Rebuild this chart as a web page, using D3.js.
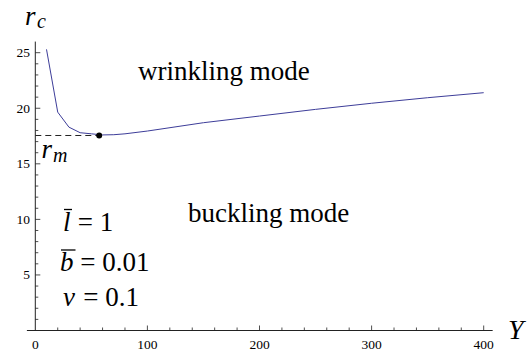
<!DOCTYPE html>
<html><head><meta charset="utf-8">
<script src="https://cdn.jsdelivr.net/npm/d3@7"></script>
</head><body style="margin:0">
<svg id="c" width="527" height="358"></svg>
<script>
// ---- data ----
const Yvals  = [10, 20, 30, 40, 50, 60, 70, 80, 100, 150, 200, 250, 300, 350, 400];
const rcVals = [25.3, 19.65, 18.3, 17.8, 17.7, 17.6, 17.62, 17.7, 17.95, 18.7, 19.3, 19.9, 20.45, 20.95, 21.4];
const minPoint = {Y: 57, r: 17.55};
const xTicks = [0, 100, 200, 300, 400];
const yTicks = [5, 10, 15, 20, 25];

const svg = d3.select("#c");
const x = d3.scaleLinear().domain([0, 400]).range([35.3, 483.7]);
const y = d3.scaleLinear().domain([0, 25]).range([330.5, 52.7]);
const axisCol = "#222";
const FAM = "Liberation Serif";

function T(t, px, py, size, italic, anchor) {
  const s = svg.append("text").attr("x", px).attr("y", py)
    .style("font-family", FAM).style("font-size", size + "px");
  if (italic) s.style("font-style", "italic");
  if (anchor) s.attr("text-anchor", anchor);
  return s.text(t);
}

// axes lines
svg.append("line").attr("x1", x(-7.5)).attr("x2", x(408)).attr("y1", y(0)).attr("y2", y(0))
  .attr("stroke", axisCol).attr("stroke-width", 1);
svg.append("line").attr("x1", x(0)).attr("x2", x(0)).attr("y1", y(0)).attr("y2", y(26))
  .attr("stroke", axisCol).attr("stroke-width", 1);

// x ticks
d3.range(20, 401, 20).forEach(v => {
  const major = v % 100 === 0;
  svg.append("line").attr("x1", x(v)).attr("x2", x(v)).attr("y1", y(0)).attr("y2", y(0) - (major ? 5 : 3))
    .attr("stroke", axisCol).attr("stroke-width", 0.8);
});
xTicks.forEach(v => T(String(v), x(v), 349, 13.5, false, "middle"));
// y ticks
d3.range(1, 26, 1).forEach(v => {
  const major = v % 5 === 0;
  svg.append("line").attr("x1", x(0)).attr("x2", x(0) + (major ? 5 : 3)).attr("y1", y(v)).attr("y2", y(v))
    .attr("stroke", axisCol).attr("stroke-width", 0.8);
});
yTicks.forEach(v => T(String(v), 30, y(v) + 4.5, 13.5, false, "end"));

// curve
const line = d3.line().x((d, i) => x(Yvals[i])).y((d, i) => y(rcVals[i]));
svg.append("path").datum(rcVals).attr("d", line).attr("fill", "none")
  .attr("stroke", "#3d3d99").attr("stroke-width", 1);

// dashed line and dot
svg.append("line").attr("x1", x(0)).attr("x2", x(minPoint.Y)).attr("y1", y(minPoint.r)).attr("y2", y(minPoint.r))
  .attr("stroke", "#222").attr("stroke-width", 1).attr("stroke-dasharray", "6,4");
svg.append("circle").attr("cx", x(minPoint.Y)).attr("cy", y(minPoint.r)).attr("r", 3).attr("fill", "#000");

T("wrinkling mode", 138, 79.5, 27);
T("buckling mode", 188, 221.5, 27);

// r_c
T("r", 25, 25, 27, true);
T("c", 37, 28, 20, true);
// Y axis label
T("Y", 508, 339, 28, true);
// r_m
T("r", 41.5, 158, 27, true);
T("m", 53, 161.5, 20, true);

// parameter labels with overbars
function param(sym, symW, rest, px, py, barW, barY) {
  T(sym, px, py, 27, true);
  T("\u00a0=\u00a0" + rest, px + symW, py, 27);
  if (barW) {
    svg.append("line").attr("x1", px + 1).attr("x2", px + 1 + barW)
      .attr("y1", py - barY).attr("y2", py - barY).attr("stroke", "#000").attr("stroke-width", 1.3);
  }
}
param("l", 8, "1", 63, 231, 8, 21.5);
param("b", 13.5, "0.01", 60, 270.5, 14.5, 20.5);
param("ν", 13.5, "0.1", 63, 306, 0, 0);
</script>
</body></html>
